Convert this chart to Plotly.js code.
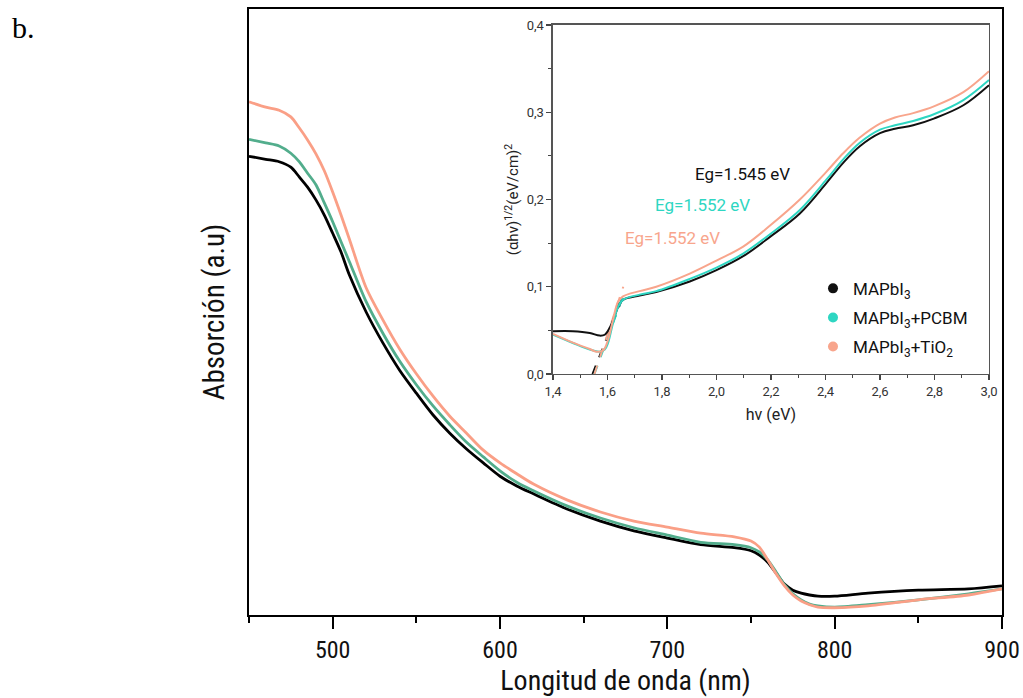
<!DOCTYPE html>
<html>
<head>
<meta charset="utf-8">
<script src="https://cdn.plot.ly/plotly-3.0.1.min.js"></script>
<style>html,body{margin:0;padding:0;background:#fff;}#chart{width:1023px;height:698px;}</style>
</head>
<body>
<div id="chart"></div>
<script>
// ---------- Main absorption spectra (arbitrary units) ----------
const wavelength = [450,460,468,475,480,485,490,495,500,505,510,520,530,540,550,560,570,580,590,600,610,620,640,660,680,700,720,740,750,755,760,765,770,775,780,785,790,800,820,850,880,900];
const absMAPbI3 = [0.757,0.752,0.748,0.739,0.723,0.706,0.685,0.660,0.630,0.599,0.561,0.500,0.449,0.404,0.366,0.330,0.300,0.274,0.251,0.229,0.213,0.200,0.175,0.155,0.139,0.127,0.116,0.111,0.106,0.099,0.087,0.069,0.051,0.041,0.036,0.033,0.031,0.031,0.036,0.041,0.043,0.048];
const absPCBM    = [0.785,0.779,0.774,0.762,0.748,0.729,0.710,0.680,0.649,0.616,0.583,0.517,0.465,0.419,0.380,0.345,0.314,0.285,0.261,0.238,0.219,0.205,0.180,0.160,0.144,0.132,0.120,0.116,0.111,0.104,0.091,0.071,0.050,0.035,0.025,0.018,0.015,0.013,0.017,0.025,0.035,0.043];
const absTiO2    = [0.847,0.838,0.833,0.822,0.804,0.784,0.761,0.733,0.698,0.660,0.620,0.540,0.487,0.439,0.398,0.361,0.328,0.300,0.272,0.251,0.233,0.216,0.190,0.170,0.155,0.145,0.135,0.129,0.122,0.112,0.091,0.068,0.048,0.033,0.023,0.017,0.013,0.012,0.015,0.025,0.033,0.043];

// ---------- Inset: Tauc plot ----------
const hvBlack = [1.40,1.473,1.535,1.571,1.59,1.608,1.626,1.645,1.663,1.718,1.779,1.902,2.0,2.098,2.2,2.306,2.404,2.465,2.526,2.6,2.655,2.722,2.8,2.906,3.0];
const taucMAPbI3 = [0.049,0.049,0.047,0.044,0.045,0.053,0.066,0.081,0.086,0.090,0.094,0.106,0.119,0.135,0.158,0.184,0.219,0.242,0.261,0.276,0.281,0.285,0.293,0.308,0.331];
const hvPCBM = [1.40,1.473,1.535,1.571,1.59,1.602,1.62,1.639,1.657,1.718,1.779,1.902,2.0,2.098,2.2,2.306,2.404,2.465,2.526,2.6,2.655,2.722,2.8,2.906,3.0];
const taucPCBM = [0.045,0.0355,0.028,0.0256,0.028,0.0355,0.058,0.077,0.085,0.091,0.095,0.109,0.122,0.138,0.161,0.188,0.223,0.246,0.265,0.280,0.285,0.290,0.298,0.314,0.337];
const hvTiO2 = [1.40,1.473,1.535,1.559,1.584,1.602,1.62,1.639,1.657,1.718,1.779,1.902,2.0,2.098,2.2,2.306,2.404,2.465,2.526,2.6,2.655,2.722,2.8,2.906,3.0];
const taucTiO2 = [0.046,0.036,0.0286,0.0256,0.027,0.039,0.062,0.083,0.089,0.095,0.100,0.115,0.130,0.146,0.171,0.200,0.232,0.253,0.271,0.287,0.294,0.299,0.307,0.323,0.347];

// Tangent (band-gap extrapolation) lines
const tanBlackX = [1.545,1.665], tanBlackY = [0.0,0.095];
const tanPCBMX  = [1.552,1.660], tanPCBMY  = [0.0,0.092];
const tanTiO2X  = [1.552,1.658], tanTiO2Y  = [0.0,0.100];

const seriesNames = ['MAPbI<sub>3</sub>','MAPbI<sub>3</sub>+PCBM','MAPbI<sub>3</sub>+TiO<sub>2</sub>'];
const egLabels = ['Eg=1.545 eV','Eg=1.552 eV','Eg=1.552 eV'];

const mainColors = ['#000000','#52ad8c','#fa9f86'];
const insetColors = ['#111111','#2ed6c2','#f8a58c'];

const NARROW = '"Liberation Sans Narrow", "Roboto Condensed", "Arial Narrow", Roboto, sans-serif';
const SANS = 'Roboto, "Open Sans", sans-serif';

const traces = [
  {x: wavelength, y: absMAPbI3, mode:'lines', line:{color:mainColors[0], width:2.8, shape:'spline', smoothing:0.8}, showlegend:false, xaxis:'x', yaxis:'y'},
  {x: wavelength, y: absPCBM,   mode:'lines', line:{color:mainColors[1], width:2.8, shape:'spline', smoothing:0.8}, showlegend:false, xaxis:'x', yaxis:'y'},
  {x: wavelength, y: absTiO2,   mode:'lines', line:{color:mainColors[2], width:2.8, shape:'spline', smoothing:0.8}, showlegend:false, xaxis:'x', yaxis:'y'},
  // tangents
  {x: tanBlackX, y: tanBlackY, mode:'lines', line:{color:insetColors[0], width:2, dash:'dash'}, showlegend:false, xaxis:'x2', yaxis:'y2'},
  {x: tanPCBMX,  y: tanPCBMY,  mode:'lines', line:{color:insetColors[1], width:2, dash:'dash'}, showlegend:false, xaxis:'x2', yaxis:'y2'},
  {x: tanTiO2X,  y: tanTiO2Y,  mode:'lines', line:{color:insetColors[2], width:2, dash:'dash'}, showlegend:false, xaxis:'x2', yaxis:'y2'},
  // inset curves
  {x: hvBlack, y: taucMAPbI3, mode:'lines', line:{color:insetColors[0], width:2, shape:'spline'}, showlegend:false, xaxis:'x2', yaxis:'y2'},
  {x: hvPCBM,  y: taucPCBM,   mode:'lines', line:{color:insetColors[1], width:2, shape:'spline'}, showlegend:false, xaxis:'x2', yaxis:'y2'},
  {x: hvTiO2,  y: taucTiO2,   mode:'lines', line:{color:insetColors[2], width:2, shape:'spline'}, showlegend:false, xaxis:'x2', yaxis:'y2'}
];
// legend entries (dot markers)
for (let i = 0; i < 3; i++) {
  traces.push({x:[null], y:[null], mode:'markers', name: seriesNames[i], legendgroup: 'g' + i,
    marker:{color: insetColors[i], size: 10}, xaxis:'x2', yaxis:'y2', showlegend:true});
}

const layout = {
  width: 1023, height: 698,
  margin: {l: 249, r: 21, t: 9, b: 83},
  paper_bgcolor: '#ffffff', plot_bgcolor: '#ffffff',
  separators: ',.',
  showlegend: true,
  legend: {x: 0.749, y: 0.568, xanchor:'left', yanchor:'top', bgcolor:'rgba(0,0,0,0)',
           font:{family: SANS, size: 17, color:'#111'}, itemwidth: 30, tracegroupgap: 4},
  xaxis: {
    domain:[0,1], range:[450,900], dtick:100, tick0:0,
    showline:true, linecolor:'#000', linewidth:2, mirror:true,
    ticks:'outside', ticklen:12, tickwidth:2, tickcolor:'#000',
    minor:{dtick:50, ticks:'outside', ticklen:6, tickwidth:2, tickcolor:'#000'},
    showgrid:false, zeroline:false,
    tickfont:{family: NARROW, size: 24, color:'#111'},
    title:{text:'Longitud de onda (nm)', font:{family: NARROW, size: 28, color:'#111'}, standoff: 6}
  },
  yaxis: {
    domain:[0,1], range:[0,1],
    showline:true, linecolor:'#000', linewidth:2, mirror:true,
    ticks:'', showticklabels:false, showgrid:false, zeroline:false,
    title:{text:'Absorción (a.u)', font:{family: NARROW, size: 29, color:'#111'}, standoff: 14}
  },
  xaxis2: {
    domain:[0.4037,0.9827], anchor:'y2', range:[1.4,3.0], dtick:0.2, tick0:1.4, tickformat:'.1f',
    showline:true, linecolor:'#555', linewidth:1.5, mirror:true,
    ticks:'outside', ticklen:5, tickwidth:1.2, tickcolor:'#444',
    minor:{dtick:0.1, ticks:'outside', ticklen:3, tickwidth:1, tickcolor:'#444'},
    showgrid:false, zeroline:false,
    tickfont:{family: SANS, size: 13, color:'#333'},
    title:{text:'hv (eV)', font:{family: SANS, size: 16, color:'#222'}, standoff: 10}
  },
  yaxis2: {
    domain:[0.3977,0.9736], anchor:'x2', range:[0,0.4], dtick:0.1, tickformat:'.1f',
    showline:true, linecolor:'#555', linewidth:1.5, mirror:true,
    ticks:'outside', ticklen:5, tickwidth:1.2, tickcolor:'#444',
    minor:{dtick:0.05, ticks:'outside', ticklen:3, tickwidth:1, tickcolor:'#444'},
    showgrid:false, zeroline:false,
    tickfont:{family: SANS, size: 13, color:'#333'},
    title:{text:'(αhv)<sup>1/2</sup>(eV/cm)<sup>2</sup>', font:{family: SANS, size: 15, color:'#222'}, standoff: 4}
  },
  annotations: [
    {text:'b.', xref:'paper', yref:'paper', x:-0.318, y:0.97, xanchor:'left', yanchor:'middle', showarrow:false,
     font:{family:'"Liberation Serif", "DejaVu Serif", serif', size:30, color:'#000'}},
    {text: egLabels[0], xref:'x2', yref:'y2', x:2.094, y:0.229, showarrow:false, font:{family: SANS, size:17, color: insetColors[0]}},
    {text: egLabels[1], xref:'x2', yref:'y2', x:1.947, y:0.194, showarrow:false, font:{family: SANS, size:17, color: insetColors[1]}},
    {text: egLabels[2], xref:'x2', yref:'y2', x:1.840, y:0.156, showarrow:false, font:{family: SANS, size:17, color: insetColors[2]}}
  ]
};

Plotly.newPlot('chart', traces, layout, {displayModeBar:false, staticPlot:true});
</script>
</body>
</html>
